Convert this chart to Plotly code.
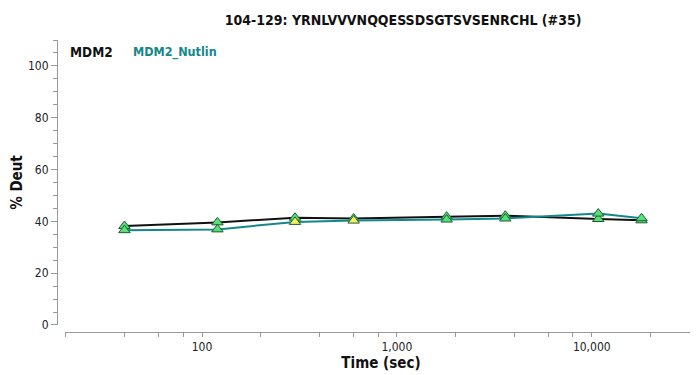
import plotly.graph_objects as go

time_sec = [40, 120, 300, 600, 1800, 3600, 10800, 18000]
mdm2 = [38.2, 39.6, 41.4, 41.1, 41.8, 42.2, 40.9, 40.4]
mdm2_nutlin = [36.6, 36.9, 39.8, 40.3, 40.7, 41.1, 43.0, 41.2]
nutlin_marker = ["#55e07a", "#55e07a", "#f2f25a", "#f2f25a", "#55e07a", "#55e07a", "#55e07a", "#55e07a"]
mdm2_marker = ["#55e07a"] * 8

title_text = "104-129: YRNLVVVNQQESSDSGTSVSENRCHL (#35)"
x_major = [100, 1000, 10000]
x_major_text = ["100", "1,000", "10,000"]
x_minor = [20, 40, 60, 80, 200, 400, 600, 800, 2000, 4000, 6000, 8000, 20000]

font_fam = "DejaVu Sans Condensed, DejaVu Sans"
teal = "#13878a"

fig = go.Figure()
fig.add_trace(go.Scatter(
    x=time_sec, y=mdm2, mode="lines+markers", name="MDM2",
    line=dict(color="#111111", width=2),
    marker=dict(symbol="triangle-up", size=10, color=mdm2_marker,
                line=dict(color="#1f5a30", width=1)),
))
fig.add_trace(go.Scatter(
    x=time_sec, y=mdm2_nutlin, mode="lines+markers", name="MDM2_Nutlin",
    line=dict(color=teal, width=2),
    marker=dict(symbol="triangle-up", size=10, color=nutlin_marker,
                line=dict(color="#1f5a30", width=1)),
))

fig.update_layout(
    width=698, height=375,
    margin=dict(l=49, r=9, t=32, b=51, autoexpand=False),
    paper_bgcolor="white", plot_bgcolor="white",
    showlegend=False,
    font=dict(family=font_fam, size=12, color="#222222"),
    title=dict(text="<b>" + title_text + "</b>", x=0.566, xanchor="center",
               y=0.968, yanchor="middle",
               font=dict(family=font_fam, size=14, color="#111111")),
    xaxis=dict(
        type="log", range=[1.297, 4.54], domain=[0.0125, 1],
        anchor="free", position=0, automargin=False,
        showline=True, linecolor="#999999", linewidth=1,
        showgrid=False, zeroline=False,
        tickmode="array", tickvals=x_major, ticktext=x_major_text,
        ticks="outside", ticklen=4, tickcolor="#999999",
        tickfont=dict(size=12, color="#222222"),
        minor=dict(tickmode="array", tickvals=x_minor, ticks="outside",
                   ticklen=4, tickcolor="#999999"),
        title=dict(text="<b>Time (sec)</b>", standoff=0,
                   font=dict(size=15, color="#111111")),
    ),
    yaxis=dict(
        range=[0, 110], domain=[0.024, 1],
        anchor="free", position=0, automargin=False,
        showline=True, linecolor="#999999", linewidth=1,
        showgrid=False, zeroline=False,
        tickmode="array", tickvals=[0, 20, 40, 60, 80, 100],
        ticks="outside", ticklen=6, tickcolor="#999999",
        tickfont=dict(size=12, color="#222222"),
        minor=dict(dtick=5, ticks="outside", ticklen=4, tickcolor="#999999"),
        title=dict(text="<b>% Deut</b>", standoff=20,
                   font=dict(size=15, color="#111111")),
    ),
    annotations=[
        dict(text="<b>MDM2</b>", xref="paper", yref="paper", x=0.017, y=0.958,
             xanchor="left", yanchor="middle", showarrow=False,
             font=dict(family=font_fam, size=13.5, color="#111111")),
        dict(text="<b>MDM2_Nutlin</b>", xref="paper", yref="paper", x=0.116, y=0.958,
             xanchor="left", yanchor="middle", showarrow=False,
             font=dict(family=font_fam, size=12.5, color=teal)),
    ],
)

fig.write_html("out.html")
